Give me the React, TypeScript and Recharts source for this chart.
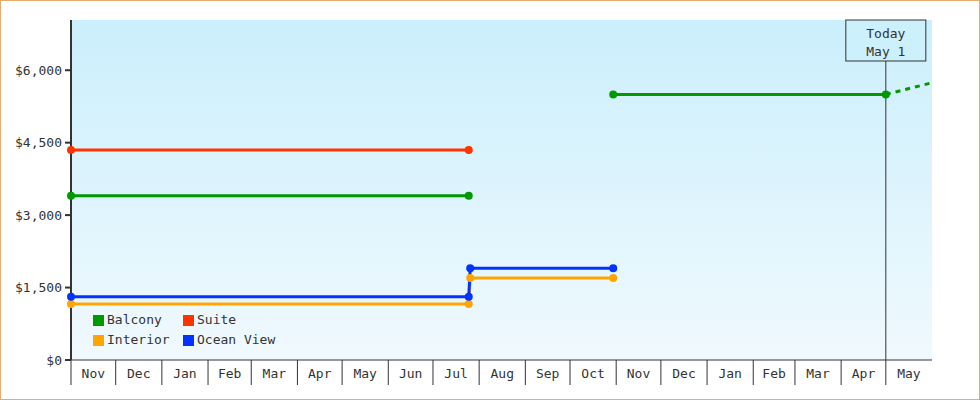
import React from "react";
import {
  CartesianGrid,
  Legend,
  Line,
  LineChart,
  ReferenceLine,
  XAxis,
  YAxis,
} from "recharts";

// month boxes along the bottom axis
const monthStarts = [
  "2023-11-01", "2023-12-01", "2024-01-01", "2024-02-01", "2024-03-01",
  "2024-04-01", "2024-05-01", "2024-06-01", "2024-07-01", "2024-08-01",
  "2024-09-01", "2024-10-01", "2024-11-01", "2024-12-01", "2025-01-01",
  "2025-02-01", "2025-03-01", "2025-04-01", "2025-05-01",
];
const monthLabels = [
  "Nov", "Dec", "Jan", "Feb", "Mar", "Apr", "May", "Jun", "Jul", "Aug",
  "Sep", "Oct", "Nov", "Dec", "Jan", "Feb", "Mar", "Apr", "May",
];
const axisEnd = "2025-06-01";
const todayDate = "2025-05-01";
const todayLabel = ["Today", "May 1"];

const yTicks = [0, 1500, 3000, 4500, 6000];
const yMax = 7040;

// price history per cabin type
const balconyEarlyDates = ["2023-11-01", "2024-07-25"];
const balconyEarlyPrices = [3400, 3400];
const balconyLateDates = ["2024-10-30", "2025-05-01"];
const balconyLatePrices = [5500, 5500];
const balconyForecastDates = ["2025-05-01", "2025-06-01"];
const balconyForecastPrices = [5500, 5740];
const suiteDates = ["2023-11-01", "2024-07-25"];
const suitePrices = [4350, 4350];
const interiorDates = ["2023-11-01", "2024-07-25", "2024-07-26", "2024-10-30"];
const interiorPrices = [1160, 1160, 1700, 1700];
const oceanDates = ["2023-11-01", "2024-07-25", "2024-07-26", "2024-10-30"];
const oceanPrices = [1310, 1310, 1900, 1900];

const legendNames = ["Balcony", "Suite", "Interior", "Ocean View"];
const legendColors = ["#009900", "#ff3300", "#ffa500", "#0033ff"];

const FONT = "'DejaVu Sans Mono', monospace";
const INK = "#333333";

const ts = (d: string) => Date.parse(d);
const toRows = (dates: string[], prices: number[]) =>
  dates.map((d, i) => ({ t: ts(d), v: prices[i] }));

const starts = monthStarts.map(ts);
const ends = [...starts.slice(1), ts(axisEnd)];
const mids = starts.map((s, i) => (s + ends[i]) / 2);
const midLabel = new Map(mids.map((m, i) => [m, monthLabels[i]]));
const xTicks = [...starts, ...mids].sort((a, b) => a - b);

function MonthTick(props: any) {
  const { x, y, payload } = props;
  const label = midLabel.get(payload.value);
  if (label === undefined) {
    return <line x1={x} x2={x} y1={y} y2={y + 25} stroke={INK} strokeWidth={1} />;
  }
  return (
    <text
      x={x}
      y={y + 13}
      textAnchor="middle"
      dominantBaseline="central"
      fill={INK}
      fontSize={13}
      fontFamily={FONT}
    >
      {label}
    </text>
  );
}

function TodayLabel(props: any) {
  const { x, y } = props.viewBox;
  return (
    <g>
      <rect x={x - 40} y={y} width={80} height={41} fill="#cdf0fd" stroke={INK} strokeWidth={1} />
      <text x={x} y={y + 13} textAnchor="middle" dominantBaseline="central" fill={INK} fontSize={13} fontFamily={FONT}>
        {todayLabel[0]}
      </text>
      <text x={x} y={y + 31} textAnchor="middle" dominantBaseline="central" fill={INK} fontSize={13} fontFamily={FONT}>
        {todayLabel[1]}
      </text>
    </g>
  );
}

function CabinLegend() {
  return (
    <div
      style={{
        display: "grid",
        gridTemplateColumns: "90px 110px",
        fontFamily: FONT,
        fontSize: 13,
        lineHeight: "20px",
        color: INK,
      }}
    >
      {legendNames.map((n, i) => (
        <div key={n} style={{ display: "flex", alignItems: "center" }}>
          <span
            style={{
              display: "inline-block",
              width: 11,
              height: 11,
              marginRight: 3,
              background: legendColors[i],
            }}
          />
          {n}
        </div>
      ))}
    </div>
  );
}

export default function App() {
  const domain = [ts(monthStarts[0]), ts(axisEnd)];
  const series = [
    { key: "be", rows: toRows(balconyEarlyDates, balconyEarlyPrices), color: legendColors[0] },
    { key: "bl", rows: toRows(balconyLateDates, balconyLatePrices), color: legendColors[0] },
    { key: "su", rows: toRows(suiteDates, suitePrices), color: legendColors[1] },
    { key: "in", rows: toRows(interiorDates, interiorPrices), color: legendColors[2] },
    { key: "oc", rows: toRows(oceanDates, oceanPrices), color: legendColors[3] },
  ];

  return (
    <div style={{ position: "absolute", left: 0, top: 0, width: 980, height: 400, background: "#fff" }}>
      <LineChart width={980} height={400} margin={{ top: 20, right: 48, bottom: 15, left: 0 }}>
        <defs>
          <linearGradient id="plotBg" x1="0" y1="0" x2="0" y2="1">
            <stop offset="0%" stopColor="#cbeffc" />
            <stop offset="100%" stopColor="#f0f9fe" />
          </linearGradient>
        </defs>
        <CartesianGrid fill="url(#plotBg)" stroke="none" horizontal={false} vertical={false} xAxisId="x" />
        <XAxis
          xAxisId="x"
          dataKey="t"
          type="number"
          domain={domain}
          ticks={xTicks}
          interval={0}
          height={25}
          tickSize={0}
          tickMargin={0}
          tickLine={false}
          axisLine={{ stroke: INK, strokeWidth: 1 }}
          tick={<MonthTick />}
          allowDataOverflow
        />
        <XAxis
          xAxisId="b"
          type="number"
          domain={domain}
          height={0}
          tick={false}
          tickLine={false}
          axisLine={{ stroke: INK, strokeWidth: 1 }}
          allowDataOverflow
        />
        <YAxis
          type="number"
          domain={[0, yMax]}
          ticks={yTicks}
          width={71}
          tickSize={6}
          tickMargin={3}
          tickFormatter={(v: number) => "$" + v.toLocaleString("en-US")}
          axisLine={{ stroke: INK, strokeWidth: 2 }}
          tickLine={{ stroke: INK, strokeWidth: 2 }}
          tick={{ fill: INK, fontSize: 13, fontFamily: FONT }}
          allowDataOverflow
        />
        <ReferenceLine
          xAxisId="x"
          x={ts(todayDate)}
          stroke={INK}
          strokeWidth={1}
          label={<TodayLabel />}
        />
        <Line
          xAxisId="x"
          data={toRows(balconyForecastDates, balconyForecastPrices)}
          dataKey="v"
          stroke={legendColors[0]}
          strokeWidth={3}
          strokeDasharray="5 5"
          dot={false}
          legendType="none"
          isAnimationActive={false}
        />
        {series.map((s) => (
          <Line
            key={s.key}
            xAxisId="x"
            data={s.rows}
            dataKey="v"
            stroke={s.color}
            strokeWidth={3}
            dot={{ r: 4, fill: s.color, stroke: "none", clipDot: false }}
            legendType="none"
            isAnimationActive={false}
          />
        ))}
        <Legend
          layout="vertical"
          align="center"
          verticalAlign="middle"
          content={<CabinLegend />}
          wrapperStyle={{ left: 93, top: 310, width: 220 }}
        />
      </LineChart>
      <div
        style={{
          position: "absolute",
          left: 0,
          top: 0,
          width: 980,
          height: 400,
          boxSizing: "border-box",
          border: "1px solid #e9ab6c",
          pointerEvents: "none",
        }}
      />
    </div>
  );
}
